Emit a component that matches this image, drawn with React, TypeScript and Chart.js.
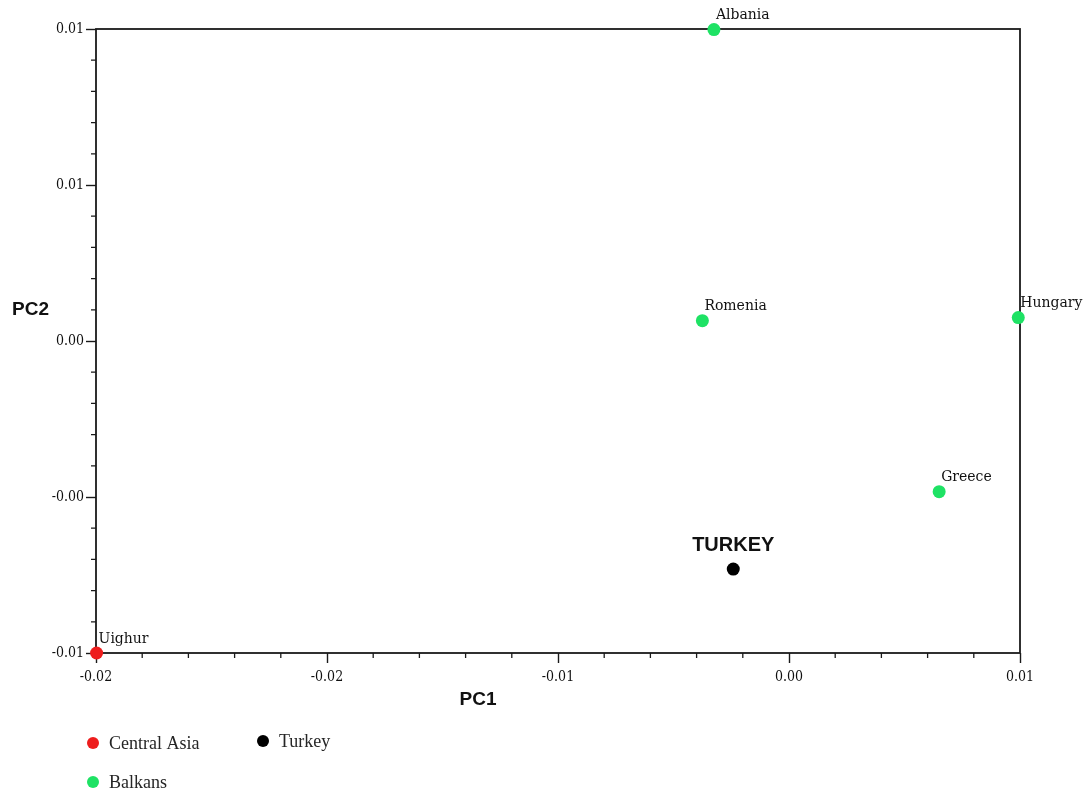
import { useEffect, useRef } from "react";
import { Chart, registerables } from "chart.js";

Chart.register(...registerables);

// PCA coordinates per population group
const centralAsiaNames = ["Uighur"];
const centralAsiaPC1 = [-0.02398];
const centralAsiaPC2 = [-0.006];

const balkanNames = ["Albania", "Romenia", "Hungary", "Greece"];
const balkanPC1 = [-0.0026, -0.003, 0.00794, 0.0052];
const balkanPC2 = [0.01398, 0.00465, 0.00475, -0.00083];

const turkeyNames = ["TURKEY"];
const turkeyPC1 = [-0.00193];
const turkeyPC2 = [-0.00331];

// Major tick positions on each axis
const xTickValues = [-0.024, -0.016, -0.008, 0, 0.008];
const yTickValues = [-0.006, -0.001, 0.004, 0.009, 0.014];
const minorPerInterval = 4;

const RED = "#ee1d1d";
const GREEN = "#1ee264";
const BLACK = "#000000";

const legendEntries = [
  { label: "Central Asia", color: RED, col: 0, row: 0 },
  { label: "Turkey", color: BLACK, col: 1, row: 0 },
  { label: "Balkans", color: GREEN, col: 0, row: 1 },
];

const TICK_FAMILY = "'DejaVu Serif Condensed', 'DejaVu Serif', serif";
const AXIS_COLOR = "#1a1a1a";

function toPoints(xs: number[], ys: number[], names: string[]) {
  return xs.map((x, i) => ({ x, y: ys[i], name: names[i] }));
}

const frameAndTicks = {
  id: "frameAndTicks",
  beforeDatasetsDraw(chart: any) {
    const { ctx, chartArea: a, scales } = chart;
    ctx.save();
    ctx.strokeStyle = AXIS_COLOR;
    ctx.lineWidth = 1.8;
    ctx.strokeRect(a.left, a.top, a.right - a.left, a.bottom - a.top);
    // minor tick marks
    ctx.lineWidth = 1.3;
    ctx.beginPath();
    const xs = scales.x;
    for (let i = 0; i < xTickValues.length - 1; i++) {
      const step = (xTickValues[i + 1] - xTickValues[i]) / (minorPerInterval + 1);
      for (let k = 1; k <= minorPerInterval; k++) {
        const px = xs.getPixelForValue(xTickValues[i] + step * k);
        ctx.moveTo(px, a.bottom);
        ctx.lineTo(px, a.bottom + 5);
      }
    }
    const ys = scales.y;
    for (let i = 0; i < yTickValues.length - 1; i++) {
      const step = (yTickValues[i + 1] - yTickValues[i]) / (minorPerInterval + 1);
      for (let k = 1; k <= minorPerInterval; k++) {
        const py = ys.getPixelForValue(yTickValues[i] + step * k);
        ctx.moveTo(a.left, py);
        ctx.lineTo(a.left - 5, py);
      }
    }
    ctx.stroke();

    // axis titles
    ctx.fillStyle = "#111";
    ctx.font = "bold 19px 'Liberation Sans', Arial, sans-serif";
    ctx.textBaseline = "middle";
    ctx.textAlign = "left";
    ctx.fillText("PC2", 12, a.top + 281);
    ctx.textAlign = "center";
    ctx.fillText("PC1", a.left + 382, a.bottom + 47);
    ctx.restore();
  },
  afterDatasetsDraw(chart: any) {
    const { ctx, chartArea: a } = chart;
    ctx.save();
    chart.data.datasets.forEach((ds: any, di: number) => {
      const meta = chart.getDatasetMeta(di);
      meta.data.forEach((el: any, i: number) => {
        const name = ds.data[i].name;
        if (ds.label === "Turkey") {
          ctx.font = "bold 20px 'Liberation Sans', Arial, sans-serif";
          ctx.fillStyle = "#111";
          ctx.textAlign = "center";
          ctx.textBaseline = "middle";
          ctx.fillText(name, el.x, el.y - 24);
        } else {
          ctx.font = "14px 'DejaVu Serif', serif";
          ctx.fillStyle = "#111";
          ctx.textAlign = "left";
          ctx.textBaseline = "middle";
          ctx.fillText(name, el.x + 2, el.y - 14);
        }
      });
    });

    // legend
    const lx = a.left - 3;
    const ly = a.bottom + 90;
    legendEntries.forEach((e) => {
      const cx = lx + e.col * 170;
      const cy = ly + e.row * 39 - (e.col === 1 ? 2 : 0);
      ctx.beginPath();
      ctx.fillStyle = e.color;
      ctx.arc(cx, cy, 6, 0, Math.PI * 2);
      ctx.fill();
      ctx.font = "18px 'Liberation Serif', serif";
      ctx.fillStyle = "#262626";
      ctx.textAlign = "left";
      ctx.textBaseline = "middle";
      ctx.fillText(e.label, cx + 16, cy + 1);
    });
    ctx.restore();
  },
};

export default function App() {
  const canvasRef = useRef<HTMLCanvasElement | null>(null);

  useEffect(() => {
    if (!canvasRef.current) return;
    const pointStyle = (color: string) => ({
      backgroundColor: color,
      borderColor: color,
      borderWidth: 0,
      pointRadius: 6.5,
      pointHoverRadius: 6.5,
      clip: false as const,
    });
    const chart = new Chart(canvasRef.current, {
      type: "scatter",
      data: {
        datasets: [
          { label: "Central Asia", data: toPoints(centralAsiaPC1, centralAsiaPC2, centralAsiaNames), ...pointStyle(RED) },
          { label: "Balkans", data: toPoints(balkanPC1, balkanPC2, balkanNames), ...pointStyle(GREEN) },
          { label: "Turkey", data: toPoints(turkeyPC1, turkeyPC2, turkeyNames), ...pointStyle(BLACK) },
        ] as any,
      },
      options: {
        animation: false,
        responsive: false,
        devicePixelRatio: 1,
        layout: { padding: { top: 29, right: 68, left: 0, bottom: 0 } },
        plugins: { legend: { display: false }, tooltip: { enabled: false } },
        scales: {
          x: {
            type: "linear",
            min: xTickValues[0],
            max: xTickValues[xTickValues.length - 1],
            afterBuildTicks: (s: any) => {
              s.ticks = xTickValues.map((v) => ({ value: v }));
            },
            afterFit: (s: any) => {
              s.height = 140;
            },
            border: { display: false },
            grid: { drawOnChartArea: false, drawTicks: true, tickLength: 10, tickColor: AXIS_COLOR, tickWidth: 1.4 },
            ticks: {
              autoSkip: false,
              maxRotation: 0,
              padding: 6,
              color: "#111",
              font: { family: TICK_FAMILY, size: 14 },
              callback: (v: any) => Number(v).toFixed(2),
            },
          },
          y: {
            type: "linear",
            min: yTickValues[0],
            max: yTickValues[yTickValues.length - 1],
            afterBuildTicks: (s: any) => {
              s.ticks = yTickValues.map((v) => ({ value: v }));
            },
            afterFit: (s: any) => {
              s.width = 96;
            },
            border: { display: false },
            grid: { drawOnChartArea: false, drawTicks: true, tickLength: 10, tickColor: AXIS_COLOR, tickWidth: 1.4 },
            ticks: {
              autoSkip: false,
              padding: 2,
              color: "#111",
              font: { family: TICK_FAMILY, size: 14 },
              callback: (v: any) => Number(v).toFixed(2),
            },
          },
        },
      },
      plugins: [frameAndTicks],
    });
    return () => chart.destroy();
  }, []);

  return (
    <div style={{ position: "absolute", left: 0, top: 0, width: 1088, height: 793, background: "#fff" }}>
      <canvas ref={canvasRef} width={1088} height={793} style={{ display: "block" }} />
    </div>
  );
}
